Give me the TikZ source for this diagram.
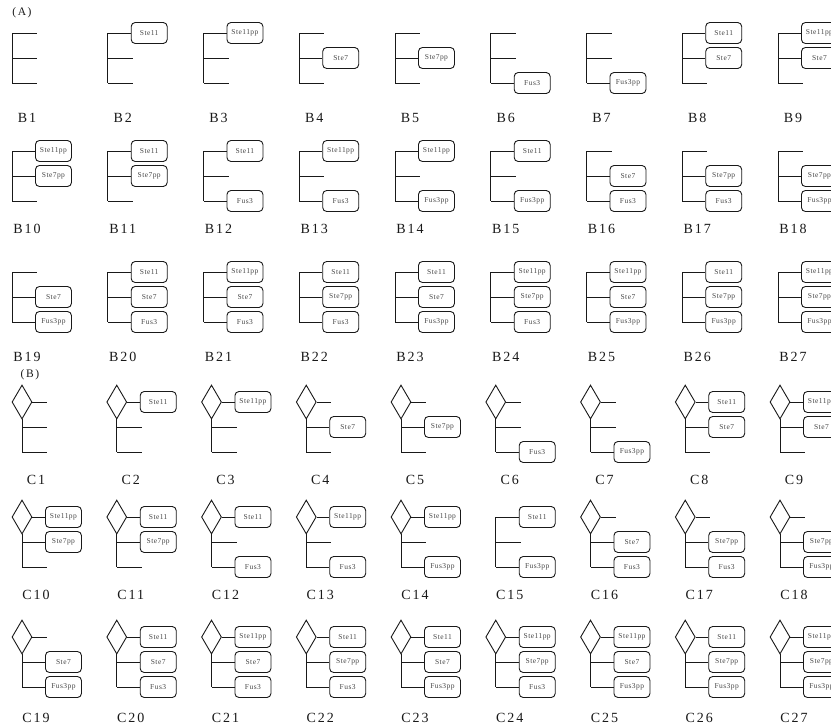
\documentclass[tikz,border=0pt]{standalone}
\usepackage{fontspec}
\setmainfont{Liberation Serif}
\newfontfamily\tagfont[LetterSpace=14]{Liberation Serif}
\newfontfamily\genefont[LetterSpace=6]{Liberation Serif}
\usetikzlibrary{positioning,shapes.geometric}
\definecolor{ink}{RGB}{25,25,25}
\definecolor{genetext}{RGB}{70,70,70}
\tikzset{
  gene/.style={draw=ink, rounded corners=4pt, minimum width=36pt,
    minimum height=21pt, inner sep=1pt, text=genetext, line width=0.9pt,
    font=\genefont\fontsize{7.5}{8}\selectfont},
  hub/.style={draw=ink, diamond, minimum width=20pt, minimum height=34pt,
    inner sep=0pt, line width=0.9pt},
  edge/.style={draw=ink, line width=0.9pt},
  tag/.style={text=ink, font=\tagfont\fontsize{14}{15}\selectfont},
  part/.style={text=ink, font=\tagfont\fontsize{11.5}{12}\selectfont},
}
\def\none{-}
% one arm: #1 anchor, #2 start of the line, #3 gene or -
\newcommand{\arm}[3]{%
  \edef\armtext{#3}%
  \ifx\armtext\none
    \coordinate[right=25pt of #1] (#1-end);
    \draw[edge] (#2) -- (#1-end);
  \else
    \node[gene, right=23pt of #1] (#1-box) {\armtext};
    \draw[edge] (#2) -- (#1-box);
  \fi}
% #1 name, #2 x, #3 y, #4 label x, #5 label y, #6 top, #7 middle, #8 bottom, #9 hub 1/0
\newcommand{\tree}[9]{%
  \coordinate (#1-t) at (#2,-#3);
  \coordinate[below=25pt of #1-t] (#1-m);
  \coordinate[below=50pt of #1-t] (#1-b);
  \ifnum#9=1
    \node[hub] (#1-hub) at (#1-t) {};
    \draw[edge] (#1-hub.south) -- (#1-b);
    \arm{#1-t}{#1-hub.east}{#6}%
  \else
    \draw[edge] (#1-t) -- (#1-b);
    \arm{#1-t}{#1-t}{#6}%
  \fi
  \arm{#1-m}{#1-m}{#7}%
  \arm{#1-b}{#1-b}{#8}%
  \node[tag] (#1-lab) at (#4,-#5) {#1};}

\begin{document}
\begin{tikzpicture}[x=1pt, y=1pt]
  \useasboundingbox (0,0) rectangle (831,-724);
  \node[part] (partA) at (22,-13) {(A)};
  \node[part] (partB) at (30,-375) {(B)};
  % B panels and C panels share the same 27 gene sets
  \foreach \t/\m/\b [count=\k] in {-/-/-, Ste11/-/-, Ste11pp/-/-, -/Ste7/-,
      -/Ste7pp/-, -/-/Fus3, -/-/Fus3pp, Ste11/Ste7/-, Ste11pp/Ste7/-,
      Ste11pp/Ste7pp/-, Ste11/Ste7pp/-, Ste11/-/Fus3, Ste11pp/-/Fus3,
      Ste11pp/-/Fus3pp, Ste11/-/Fus3pp, -/Ste7/Fus3, -/Ste7pp/Fus3,
      -/Ste7pp/Fus3pp, -/Ste7/Fus3pp, Ste11/Ste7/Fus3, Ste11pp/Ste7/Fus3,
      Ste11/Ste7pp/Fus3, Ste11/Ste7/Fus3pp, Ste11pp/Ste7pp/Fus3,
      Ste11pp/Ste7/Fus3pp, Ste11/Ste7pp/Fus3pp, Ste11pp/Ste7pp/Fus3pp}{
    \pgfmathsetmacro\bx{12+95.75*mod(\k-1,9)}
    \pgfmathsetmacro\cx{22+94.75*mod(\k-1,9)}
    \pgfmathsetmacro\by{{33,151,272}[int((\k-1)/9)]}
    \pgfmathsetmacro\bly{{118,229,357}[int((\k-1)/9)]}
    \pgfmathsetmacro\cy{{402,517,637}[int((\k-1)/9)]}
    \pgfmathsetmacro\cly{{480,595,718}[int((\k-1)/9)]}
    \pgfmathsetmacro\blx{\bx+15}
    \pgfmathsetmacro\clx{\cx+14}
    \pgfmathtruncatemacro\h{\k==15 ? 0 : 1}
    \tree{B\k}{\bx}{\by}{\blx}{\bly}{\t}{\m}{\b}{0}
    \tree{C\k}{\cx}{\cy}{\clx}{\cly}{\t}{\m}{\b}{\h}
  }
\end{tikzpicture}
\end{document}
